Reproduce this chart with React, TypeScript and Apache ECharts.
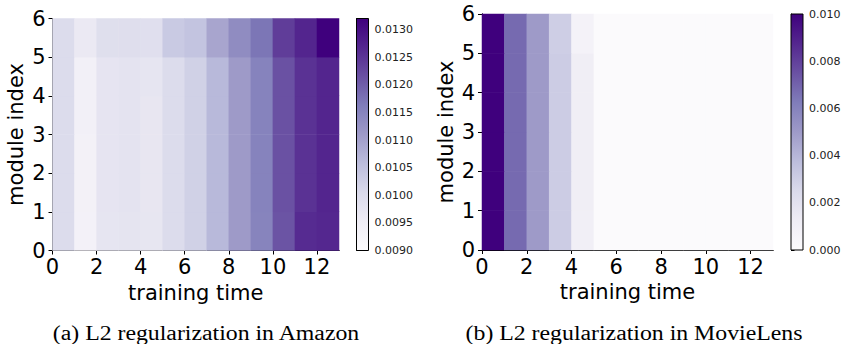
import React, { useEffect, useRef } from 'react';
import * as echarts from 'echarts';

// cell categories (training time steps and module indices)
const trainingTime = ['0', '1', '2', '3', '4', '5', '6', '7', '8', '9', '10', '11', '12'];
const moduleIndex = ['0', '1', '2', '3', '4', '5'];

// L2 regularization in Amazon, rows = module index 0..5, columns = training time 0..12
const amazonRow0 = [0.01000, 0.00936, 0.00974, 0.00978, 0.00972, 0.01000, 0.01022, 0.01064, 0.01110, 0.01150, 0.01212, 0.01262, 0.01268];
const amazonRow1 = [0.01000, 0.00938, 0.00976, 0.00980, 0.00971, 0.01000, 0.01022, 0.01064, 0.01110, 0.01152, 0.01215, 0.01254, 0.01270];
const amazonRow2 = [0.01000, 0.00938, 0.00976, 0.00980, 0.00971, 0.01000, 0.01022, 0.01064, 0.01110, 0.01152, 0.01215, 0.01254, 0.01270];
const amazonRow3 = [0.01000, 0.00940, 0.00976, 0.00980, 0.00971, 0.01000, 0.01022, 0.01064, 0.01110, 0.01152, 0.01215, 0.01254, 0.01270];
const amazonRow4 = [0.01000, 0.00940, 0.00976, 0.00980, 0.00975, 0.01000, 0.01022, 0.01064, 0.01110, 0.01152, 0.01215, 0.01254, 0.01270];
const amazonRow5 = [0.01000, 0.00963, 0.00992, 0.00993, 0.00990, 0.01034, 0.01045, 0.01093, 0.01135, 0.01171, 0.01240, 0.01270, 0.01320];
const amazonL2 = [amazonRow0, amazonRow1, amazonRow2, amazonRow3, amazonRow4, amazonRow5];

// L2 regularization in MovieLens
const movieRow0 = [0.0100, 0.0068, 0.0050, 0.0031, 0.0011, 0.0001, 0.0001, 0.0001, 0.0001, 0.0001, 0.0001, 0.0001, 0.0001];
const movieRow1 = [0.0100, 0.0068, 0.0050, 0.0031, 0.0012, 0.0001, 0.0001, 0.0001, 0.0001, 0.0001, 0.0001, 0.0001, 0.0001];
const movieRow2 = [0.0100, 0.0068, 0.0050, 0.0031, 0.0012, 0.0001, 0.0001, 0.0001, 0.0001, 0.0001, 0.0001, 0.0001, 0.0001];
const movieRow3 = [0.0100, 0.0068, 0.0050, 0.0031, 0.0012, 0.0001, 0.0001, 0.0001, 0.0001, 0.0001, 0.0001, 0.0001, 0.0001];
const movieRow4 = [0.0100, 0.0068, 0.0050, 0.0031, 0.0012, 0.0001, 0.0001, 0.0001, 0.0001, 0.0001, 0.0001, 0.0001, 0.0001];
const movieRow5 = [0.0100, 0.0068, 0.0050, 0.0030, 0.0008, 0.0001, 0.0001, 0.0001, 0.0001, 0.0001, 0.0001, 0.0001, 0.0001];
const movieLensL2 = [movieRow0, movieRow1, movieRow2, movieRow3, movieRow4, movieRow5];

// tick labels
const xTickValues = [0, 2, 4, 6, 8, 10, 12];
const yTickValues = [0, 1, 2, 3, 4, 5, 6];
const amazonBarTicks = [0.009, 0.0095, 0.01, 0.0105, 0.011, 0.0115, 0.012, 0.0125, 0.013];
const movieBarTicks = [0, 0.002, 0.004, 0.006, 0.008, 0.01];
const amazonRange = [0.009, 0.0132];
const movieRange = [0, 0.01];

const captions = ['(a) L2 regularization in Amazon', '(b) L2 regularization in MovieLens'];
const xName = 'training time';
const yName = 'module index';

const purples = ['#fcfbfd', '#efedf5', '#dadaeb', '#bcbddc', '#9e9ac8', '#807dba', '#6a51a3', '#54278f', '#3f007d'];

const FONT = 'DejaVu Sans';
const FS = 21;

const toCells = (m: number[][]) => m.flatMap((row, y) => row.map((v, x) => [x, y, v]));

const plots = [
  { left: 52.5, top: 18.5, width: 286.5, height: 232 },
  { left: 482, top: 14, width: 291, height: 236 },
];
const bars = [
  { left: 356.5, top: 18.5, width: 12, height: 232 },
  { left: 791, top: 14, width: 12, height: 236 },
];

const line = { show: true, lineStyle: { color: '#000', width: 1 } };

function plotX(g: number) {
  return [
    {
      type: 'category', gridIndex: g, data: trainingTime, position: 'top',
      axisLine: line, axisTick: { show: false }, axisLabel: { show: false }, splitLine: { show: false },
    },
    {
      type: 'value', gridIndex: g, min: 0, max: 13, interval: 2, position: 'bottom',
      axisLine: line,
      axisTick: { show: true, length: 4, lineStyle: { color: '#000' }, customValues: xTickValues },
      axisLabel: { fontSize: FS, color: '#000', fontFamily: FONT, margin: 6, customValues: xTickValues },
      splitLine: { show: false },
      name: xName, nameLocation: 'middle', nameGap: 30,
      nameTextStyle: { fontSize: FS, color: '#000', fontFamily: FONT },
    },
  ];
}

function plotY(g: number) {
  return [
    {
      type: 'category', gridIndex: g, data: moduleIndex, position: 'right',
      axisLine: line, axisTick: { show: false }, axisLabel: { show: false }, splitLine: { show: false },
    },
    {
      type: 'value', gridIndex: g, min: 0, max: 6, interval: 1, position: 'left',
      axisLine: line,
      axisTick: { show: true, length: 4, lineStyle: { color: '#000' }, customValues: yTickValues },
      axisLabel: { fontSize: FS, color: '#000', fontFamily: FONT, margin: 7, customValues: yTickValues },
      splitLine: { show: false },
      name: yName, nameLocation: 'middle', nameGap: 26,
      nameTextStyle: { fontSize: FS, color: '#000', fontFamily: FONT },
    },
  ];
}

function barY(g: number, range: number[], interval: number, ticks: number[], digits: number) {
  return {
    type: 'value', gridIndex: g, min: range[0], max: range[1], interval, position: 'right',
    axisLine: line,
    axisTick: { show: true, length: 3.5, lineStyle: { color: '#000' }, customValues: ticks },
    axisLabel: {
      fontSize: 11, color: '#222', fontFamily: FONT, margin: 6, customValues: ticks,
      formatter: (v: number) => v.toFixed(digits),
    },
    splitLine: { show: false },
  };
}

function gradient() {
  return new echarts.graphic.LinearGradient(0, 1, 0, 0, purples.map((c, i) => ({ offset: i / (purples.length - 1), color: c })));
}

export default function App() {
  const ref = useRef<HTMLDivElement>(null);
  useEffect(() => {
    if (!ref.current) return;
    const chart = echarts.init(ref.current, undefined, { renderer: 'svg' });
    const option = {
      animation: false,
      backgroundColor: '#fff',
      grid: [...plots, ...bars].map((p) => ({ ...p, containLabel: false })),
      xAxis: [
        ...plotX(0), ...plotX(1),
        { type: 'value', gridIndex: 2, show: false },
        { type: 'value', gridIndex: 3, show: false },
      ],
      yAxis: [
        ...plotY(0), ...plotY(1),
        barY(2, amazonRange, 0.0005, amazonBarTicks, 4),
        barY(3, movieRange, 0.002, movieBarTicks, 3),
      ],
      visualMap: [
        { type: 'continuous', show: false, seriesIndex: 0, min: amazonRange[0], max: amazonRange[1], inRange: { color: purples } },
        { type: 'continuous', show: false, seriesIndex: 1, min: movieRange[0], max: movieRange[1], inRange: { color: purples } },
      ],
      series: [
        { type: 'heatmap', xAxisIndex: 0, yAxisIndex: 0, data: toCells(amazonL2), emphasis: { disabled: true }, itemStyle: { borderWidth: 0 } },
        { type: 'heatmap', xAxisIndex: 2, yAxisIndex: 2, data: toCells(movieLensL2), emphasis: { disabled: true }, itemStyle: { borderWidth: 0 } },
      ],
      graphic: [
        ...bars.map((b) => ({
          type: 'rect', z: 10,
          shape: { x: b.left, y: b.top, width: b.width, height: b.height },
          style: { fill: gradient(), stroke: '#000', lineWidth: 1 },
        })),
        {
          type: 'text', x: 206, y: 333, scaleX: 1.19, z: 10,
          style: { text: captions[0], fontSize: 20, fontFamily: 'Liberation Serif', fill: '#000', textAlign: 'center', textVerticalAlign: 'middle' },
        },
        {
          type: 'text', x: 634, y: 333, scaleX: 1.19, z: 10,
          style: { text: captions[1], fontSize: 20, fontFamily: 'Liberation Serif', fill: '#000', textAlign: 'center', textVerticalAlign: 'middle' },
        },
      ],
    };
    chart.setOption(option as any);
    return () => chart.dispose();
  }, []);
  return <div ref={ref} style={{ position: 'absolute', left: 0, top: 0, width: 846, height: 344 }} />;
}
